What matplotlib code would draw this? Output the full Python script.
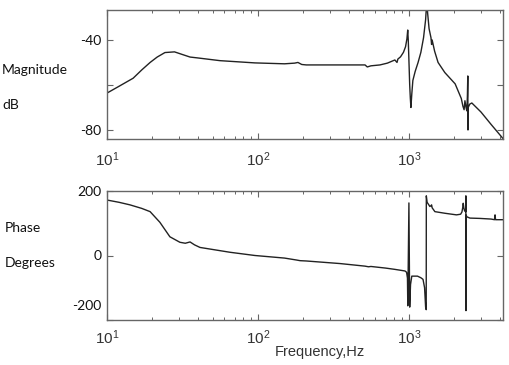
import matplotlib
matplotlib.use("Agg")
import matplotlib.pyplot as plt
import matplotlib.transforms as mtransforms
import numpy as np

# ---- data ----
mag_freq = [10, 12, 14.9, 17, 19.3, 21.5, 24.2, 28, 32, 35.5, 40, 56, 95.5, 150, 175, 184, 195, 209,
            300, 450, 512, 530, 560, 643, 720, 807, 834, 845, 880, 920, 950, 970, 982, 990, 1000,
            1012, 1022, 1031, 1045, 1062, 1100, 1150, 1200, 1250, 1290, 1315, 1330, 1360, 1400,
            1413, 1425, 1480, 1560, 1730, 2024, 2223, 2280, 2320, 2350, 2390, 2420, 2440, 2455,
            2462, 2470, 2530, 2611, 3000, 3500, 4200]
mag_db = [-63.6, -60.6, -57.0, -53.3, -50.0, -47.6, -45.6, -45.3, -46.6, -47.6, -48.0, -49.2, -50.2,
          -50.6, -50.3, -50.0, -50.9, -51.1, -51.1, -51.1, -51.1, -52.0, -51.5, -51.1, -50.3, -48.9,
          -50.0, -48.5, -47.5, -45.5, -43.0, -39.5, -35.6, -40.0, -49.0, -60.0, -66.0, -70.0, -64.0,
          -58.0, -54.0, -50.0, -45.5, -39.0, -31.0, -22.0, -28.0, -35.0, -39.0, -42.0, -40.0, -45.0,
          -50.0, -54.5, -59.5, -66.0, -69.5, -71.0, -67.0, -70.0, -71.5, -65.0, -56.0, -80.0, -70.0,
          -68.5, -68.0, -72.0, -77.5, -83.8]

ph_freq = [10, 12, 14.2, 17, 19.3, 22.4, 26.1, 30.4, 33, 35.5, 38, 41.3, 65.3, 95.5, 150, 180, 190,
           209, 350, 512, 540, 560, 700, 807, 942, 965, 978, 983, 1000, 1012, 1025, 1045, 1100,
           1140, 1200, 1240, 1270, 1290, 1302, 1304, 1320, 1377, 1405, 1413, 1425, 1486, 1730,
           2065, 2200, 2245, 2275, 2290, 2310, 2340, 2380, 2384, 2388, 2393, 2420, 2535, 2950,
           3500, 3690, 3720, 3750, 4200]
ph_deg = [172, 165, 157, 146, 136, 103, 58, 41, 38, 42, 33, 25, 10, 0, -8, -14, -16, -17, -25, -33,
          -35, -34, -39, -43, -48, -52, -70, -156, 163, -160, -90, -64, -64, -64, -69, -74, -100,
          -160, -168, 185, 165, 152, 155, 157, 148, 136, 131, 126, 128, 135, 150, 162, 148, 138, 136,
          185, -171, 125, 120, 116, 115, 113, 111, 126, 111, 111]

mag_ticks = [-80, -60, -40]
mag_ticklabels = ["-80", "", "-40"]
ph_ticks = [-200, 0, 200]
ph_ticklabels = ["-200", "0", "200"]

W, H = 510, 365
fig = plt.figure(figsize=(W / 100, H / 100), dpi=100)
fig.patch.set_facecolor("white")

line_col = "#222222"
frame_col = "#666666"
scan_font = "Liberation Sans"
label_font = "Lato"


def px_axes(l, t, r, b):
    return fig.add_axes([l / W, 1 - b / H, (r - l) / W, (b - t) / H])


ax1 = px_axes(107, 10, 503, 139)
ax2 = px_axes(107, 191, 503, 320)

ax1.plot(mag_freq, mag_db, color=line_col, lw=1.0)
ax2.plot(ph_freq, ph_deg, color=line_col, lw=1.0)

for ax in (ax1, ax2):
    ax.set_xscale("log")
    ax.set_xlim(10, 4200)
    for s in ax.spines.values():
        s.set_color(frame_col)
        s.set_linewidth(1.0)
    ax.tick_params(which="both", direction="in", top=True, right=True, color=frame_col)
    ax.tick_params(which="major", length=4, width=0.8)
    ax.tick_params(which="minor", length=2.5, width=0.7)
    ax.tick_params(axis="y", which="minor", left=False, right=False)
    ax.tick_params(axis="x", labelsize=11, labelcolor="#333333", labelfontfamily=scan_font)
    ax.tick_params(axis="y", labelsize=10, labelcolor="#111111", labelfontfamily=label_font, pad=4)

ax1.tick_params(axis="x", pad=8)
ax2.tick_params(axis="x", pad=6)

ax1.set_ylim(-84, -26.7)
ax1.set_yticks(mag_ticks)
ax1.set_yticklabels(mag_ticklabels)

ax2.set_ylim(-200, 200)
ax2.set_yticks(ph_ticks)
ax2.set_yticklabels(ph_ticklabels)
# the "-200" label sits a little above its tick in the reference
lbl = ax2.get_yticklabels()[0]
lbl.set_transform(lbl.get_transform() + mtransforms.ScaledTranslation(0, 0.15, fig.dpi_scale_trans))

# side labels
def ftext(x, y, s, **kw):
    fig.text(x / W, 1 - y / H, s, **kw)

ftext(2, 70, "Magnitude", fontsize=10, family=label_font, va="center", ha="left", color="#111111")
ftext(2, 105, "dB", fontsize=10, family=label_font, va="center", ha="left", color="#111111")
ftext(5, 228, "Phase", fontsize=10, family=label_font, va="center", ha="left", color="#111111")
ftext(5, 263, "Degrees", fontsize=10, family=label_font, va="center", ha="left", color="#111111")
ftext(320, 352, "Frequency,Hz", fontsize=10.5, family=scan_font, va="center", ha="center", color="#333333")

fig.savefig("out.png", dpi=100, facecolor="white")
